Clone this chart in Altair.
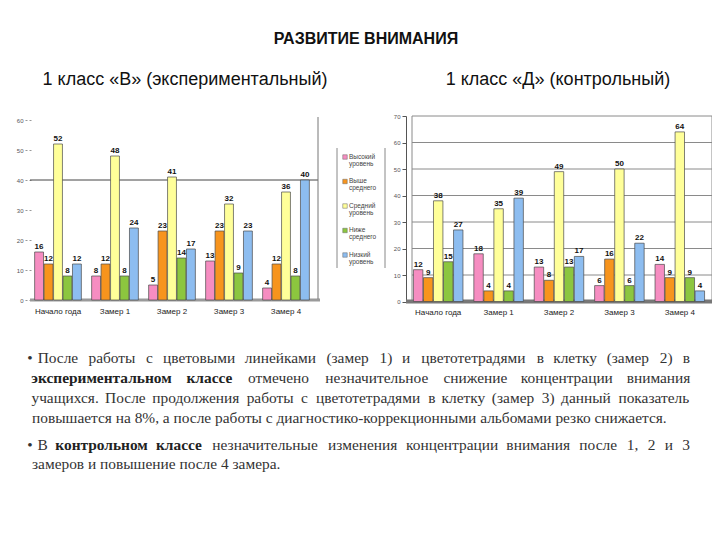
import altair as alt
import pandas as pd

# ---------------- data ----------------
categories = ["Начало года", "Замер 1", "Замер 2", "Замер 3", "Замер 4"]
levels = ["Высокий уровень", "Выше среднего", "Средний уровень", "Ниже среднего", "Низкий уровень"]
level_colors = ["#F68DC1", "#F7941D", "#FFFF99", "#8CC63F", "#8DBDF0"]

exp_high = [16, 8, 5, 13, 4]
exp_above = [12, 12, 23, 23, 12]
exp_mid = [52, 48, 41, 32, 36]
exp_below = [8, 8, 14, 9, 8]
exp_low = [12, 24, 17, 23, 40]

ctl_high = [12, 18, 13, 6, 14]
ctl_above = [9, 4, 8, 16, 9]
ctl_mid = [38, 35, 49, 50, 64]
ctl_below = [15, 4, 13, 6, 9]
ctl_low = [27, 39, 17, 22, 4]

exp_ticks = [0, 10, 20, 30, 40, 50, 60]
ctl_ticks = [0, 10, 20, 30, 40, 50, 60, 70]

title_text = "РАЗВИТИЕ ВНИМАНИЯ"
subtitle_exp = "1 класс «В» (экспериментальный)"
subtitle_ctl = "1 класс «Д» (контрольный)"

para1 = [
    "После работы с цветовыми линейками (замер 1) и цветотетрадями в клетку (замер 2) в",
    "**экспериментальном классе** отмечено незначительное снижение концентрации внимания",
    "учащихся. После продолжения работы с цветотетрадями в клетку (замер 3) данный показатель",
    "повышается на 8%, а после работы с диагностико-коррекционными альбомами резко снижается.",
]
para2 = [
    "В **контрольном классе** незначительные изменения концентрации внимания после 1, 2 и 3",
    "замеров и повышение после 4 замера.",
]

# ---------------- helpers ----------------
H = 524
W = 704
FONT = "Liberation Sans Narrow"
BODY_SIZE = 15.4
EST = 0.90


def long_df(series):
    rows = []
    for j, vals in enumerate(series):
        for i, v in enumerate(vals):
            rows.append({"cat": categories[i], "level": levels[j], "value": v})
    return pd.DataFrame(rows)


df_exp = long_df([exp_high, exp_above, exp_mid, exp_below, exp_low])
df_ctl = long_df([ctl_high, ctl_above, ctl_mid, ctl_below, ctl_low])

color_enc = alt.Color("level:N", sort=levels,
                      scale=alt.Scale(domain=levels, range=level_colors), legend=None)


def panel(df, x_range, y_dom, y_range, ticks, yaxis_offset, y_axis_kw, extras):
    xenc = alt.X("cat:N", sort=categories, title=None,
                 scale=alt.Scale(range=x_range, paddingInner=0.18, paddingOuter=0.09),
                 axis=alt.Axis(orient="bottom", offset=-(H - y_range[0]), domain=False,
                               ticks=False, labelAngle=0, labelFontSize=8,
                               labelColor="#222", labelPadding=7, labelFont="Liberation Sans"))
    yaxis = alt.Axis(orient="left", offset=-yaxis_offset, values=ticks, grid=False,
                     labelFontSize=6, labelColor="#555", labelPadding=2,
                     labelFont="Liberation Sans", title=None, **y_axis_kw)
    yenc = alt.Y("value:Q", title=None,
                 scale=alt.Scale(domain=y_dom, range=y_range, nice=False, zero=True),
                 axis=yaxis)
    xo = alt.XOffset("level:N", sort=levels, scale=alt.Scale(paddingInner=0.06))
    layers = []
    for ex in extras:
        layers.append(ex(yenc))
    bars = alt.Chart(df).mark_bar(stroke="#4a4a4a", strokeWidth=0.7).encode(
        x=xenc, xOffset=xo, y=yenc, color=color_enc)
    labels = alt.Chart(df).mark_text(baseline="bottom", dy=-1, fontSize=8, fontWeight="bold",
                                     color="#111", font="Liberation Sans").encode(
        x=xenc, xOffset=xo, y=yenc, text="value:Q")
    return alt.layer(*layers, bars, labels)


# ---- left (experimental) panel decorations
def left_line40(yenc):
    return alt.Chart(pd.DataFrame({"value": [40]})).mark_rule(color="#444", strokeWidth=1).encode(
        y=yenc, x=alt.value(22), x2=alt.value(310))


def left_floor(yenc):
    return alt.Chart(pd.DataFrame({"value": [0]})).mark_rule(color="#9a9a9a", strokeWidth=3).encode(
        y=yenc, x=alt.value(22), x2=alt.value(312))


def left_frame(yenc):
    return alt.Chart(pd.DataFrame({"value": [0]})).mark_rule(color="#777", strokeWidth=1).encode(
        x=alt.value(310), y=alt.value(109), y2=alt.value(291))


left_panel = panel(df_exp, [21.5, 306.5], [0, 60], [292, 112], exp_ticks, 23,
                   dict(domain=False, tickSize=6, tickColor="#999", tickDash=[2, 2]),
                   [left_line40, left_floor, left_frame])


# ---- right (control) panel decorations
def right_grid(yenc):
    return alt.Chart(pd.DataFrame({"value": ctl_ticks[1:]})).mark_rule(color="#8a8a8a", strokeWidth=1).encode(
        y=yenc, x=alt.value(404), x2=alt.value(704))


def right_walls(yenc):
    return alt.Chart(pd.DataFrame({"px": [404, 704]})).mark_rule(color="#8a8a8a", strokeWidth=1).encode(
        x=alt.X("px:Q", scale=None, axis=None), y=alt.value(108), y2=alt.value(293))


def right_floor(yenc):
    return alt.Chart(pd.DataFrame({"value": [0]})).mark_rule(color="#777", strokeWidth=4).encode(
        y=yenc, x=alt.value(398), x2=alt.value(706))


right_panel = panel(df_ctl, [400, 702], [0, 70], [293.5, 108], ctl_ticks, 398,
                    dict(domain=True, domainColor="#555", tickSize=4, tickColor="#555"),
                    [right_grid, right_walls, right_floor])

# ---- legend (manual, between the panels)
leg_df = pd.DataFrame({
    "level": levels,
    "sx": [337] * 5,
    "sy": [149 + 24.5 * i for i in range(5)],
    "tx": [341] * 5,
    "ty": [145.5 + 24.5 * i for i in range(5)],
})
leg_sq = alt.Chart(leg_df).mark_square(size=20, stroke="#666", strokeWidth=0.5, opacity=1).encode(
    x=alt.X("sx:Q", scale=None, axis=None), y=alt.Y("sy:Q", scale=None, axis=None), color=color_enc)
leg_tx = alt.Chart(leg_df).mark_text(align="left", baseline="top", fontSize=6.5, lineBreak=" ",
                                     lineHeight=7, color="#444", font="Liberation Sans").encode(
    x=alt.X("tx:Q", scale=None, axis=None), y=alt.Y("ty:Q", scale=None, axis=None), text="level:N")
leg_box = alt.Chart(pd.DataFrame({"px": [329, 377]})).mark_rule(color="#888", strokeWidth=1).encode(
    x=alt.X("px:Q", scale=None, axis=None), y=alt.value(140), y2=alt.value(260))

# ---- titles
title_df = pd.DataFrame({"x": [358], "y": [31], "t": [title_text]})
title_l = alt.Chart(title_df).mark_text(fontSize=16, fontWeight="bold", color="#111",
                                        font="Liberation Sans", baseline="middle").encode(
    x=alt.X("x:Q", scale=None, axis=None), y=alt.Y("y:Q", scale=None, axis=None), text="t:N")
sub_df = pd.DataFrame({"x": [177, 550], "y": [72, 72], "t": [subtitle_exp, subtitle_ctl]})
sub_l = alt.Chart(sub_df).mark_text(fontSize=18, color="#111", font="Liberation Sans",
                                    baseline="middle").encode(
    x=alt.X("x:Q", scale=None, axis=None), y=alt.Y("y:Q", scale=None, axis=None), text="t:N")

# ---- paragraphs: justified word layout
CW = {"а": .556, "б": .573, "в": .531, "г": .365, "д": .583, "е": .556, "ё": .556, "ж": .669,
      "з": .458, "и": .559, "й": .559, "к": .438, "л": .583, "м": .688, "н": .552, "о": .556,
      "п": .542, "р": .556, "с": .5, "т": .458, "у": .5, "ф": .823, "х": .5, "ц": .583,
      "ч": .521, "ш": .802, "щ": .823, "ъ": .625, "ы": .719, "ь": .521, "э": .51, "ю": .75,
      "я": .542, " ": .278, ".": .278, ",": .278, "(": .333, ")": .333, "-": .333, "%": .889}


def est(word, bold):
    w = 0.0
    for ch in word:
        if ch.isdigit():
            w += .556
        elif ch.isupper():
            w += .68
        else:
            w += CW.get(ch, .55)
    return w * BODY_SIZE * EST * (1.07 if bold else 1.0)


def tokens(line):
    out = []
    bold = False
    for w in line.split(" "):
        b = bold
        if w.startswith("**"):
            w = w[2:]
            b = True
            bold = True
        if w.endswith("**"):
            w = w[:-2]
            bold = False
        out.append((w, b))
    return out


words = []
plain_lines = []


def place(line, x0, x1, y):
    tk = tokens(line)
    ws = [est(w, b) for w, b in tk]
    gap = (x1 - x0 - sum(ws)) / (len(tk) - 1)
    cur = x0
    for (w, b), wd in zip(tk, ws):
        words.append({"x": cur + wd / 2, "y": y, "t": w, "bold": b})
        cur += wd + gap


line_y = [350, 370, 390, 410, 437, 456]
place(para1[0], 30, 682, line_y[0])
place(para1[1], 24, 682, line_y[1])
place(para1[2], 24, 682, line_y[2])
plain_lines.append({"x": 24, "y": line_y[3], "t": para1[3]})
place(para2[0], 30, 682, line_y[4])
plain_lines.append({"x": 24, "y": line_y[5], "t": para2[1]})
words.append({"x": 22, "y": line_y[0], "t": "•", "bold": False})
words.append({"x": 22, "y": line_y[4], "t": "•", "bold": False})
wdf = pd.DataFrame(words)
pdf = pd.DataFrame(plain_lines)

txt_norm = alt.Chart(wdf[~wdf["bold"]]).mark_text(fontSize=BODY_SIZE, color="#333", font=FONT,
                                                 baseline="middle").encode(
    x=alt.X("x:Q", scale=None, axis=None), y=alt.Y("y:Q", scale=None, axis=None), text="t:N")
txt_bold = alt.Chart(wdf[wdf["bold"]]).mark_text(fontSize=BODY_SIZE, color="#222", font=FONT,
                                                fontWeight="bold", baseline="middle").encode(
    x=alt.X("x:Q", scale=None, axis=None), y=alt.Y("y:Q", scale=None, axis=None), text="t:N")
txt_plain = alt.Chart(pdf).mark_text(fontSize=BODY_SIZE, color="#333", font=FONT, align="left",
                                     baseline="middle").encode(
    x=alt.X("x:Q", scale=None, axis=None), y=alt.Y("y:Q", scale=None, axis=None), text="t:N")

chart = alt.layer(
    left_panel, right_panel, leg_box, leg_sq, leg_tx, title_l, sub_l, txt_norm, txt_bold, txt_plain
).resolve_scale(x="independent", y="independent", xOffset="independent").properties(
    width=W, height=H, padding=0, autosize=alt.AutoSizeParams(type="none")
).configure_view(stroke=None)

chart.save("out.html", embed_options={"renderer": "svg", "actions": False})
